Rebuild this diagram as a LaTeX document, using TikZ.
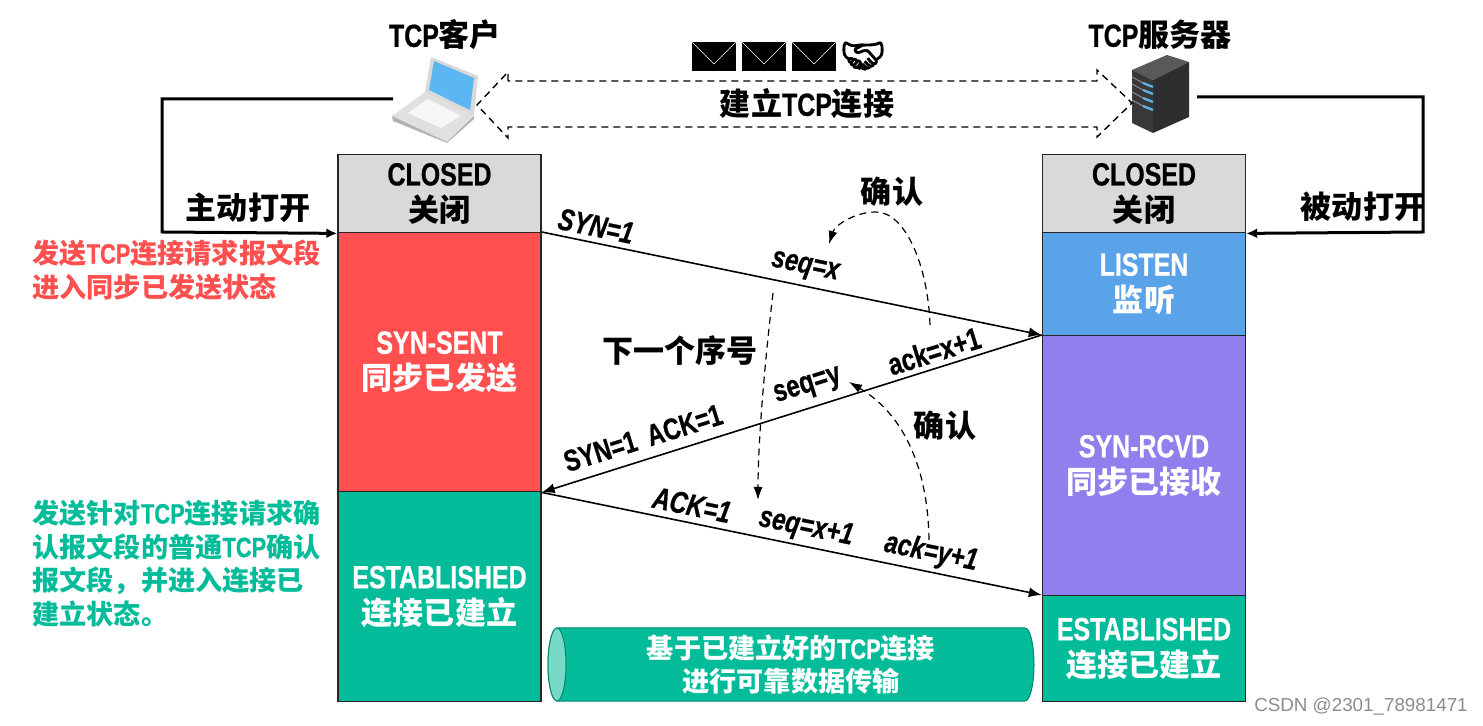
\documentclass[tikz,border=0pt]{standalone}
\usepackage{fontspec}
\usetikzlibrary{calc,arrows.meta}
\setmainfont{Liberation Sans}[FakeStretch=0.78, BoldFeatures={FakeBold=0.7}, BoldItalicFeatures={FakeBold=0.7}]
\newfontfamily\zhfont{Noto Sans CJK SC}[Scale=0.97]
\newfontfamily\iconfont{Noto Emoji}[FakeBold=4]
\newfontfamily\markfont{Liberation Sans}
\newcommand{\zh}[1]{{\zhfont\bfseries #1}}
\definecolor{boxgrey}{HTML}{D9D9D9}
\definecolor{sentred}{HTML}{FF4F4F}
\definecolor{listenblue}{HTML}{5AA3E8}
\definecolor{rcvdpurple}{HTML}{9080EE}
\definecolor{estgreen}{HTML}{05BC9A}
\definecolor{screenblue}{HTML}{5CB6F2}
\tikzset{
  statebox/.style={draw=black!85, line width=0.7pt, minimum width=101.5pt, inner sep=0pt,
                   align=center, anchor=north, text=white, execute at begin node={\rule{0pt}{14.5pt}},
                   font=\fontsize{16}{18}\selectfont\bfseries},
  caption/.style={inner sep=0pt, font=\fontsize{16}{18}\selectfont\bfseries},
  note/.style={inner sep=0pt, align=left, anchor=west, font=\fontsize{14}{16.8}\selectfont\bfseries},
  msg/.style={-{Latex[length=6.5pt,width=5pt]}, line width=0.8pt},
  flag/.style={inner sep=0pt, font=\fontsize{15.3}{18}\selectfont\bfseries\itshape},
  field/.style={inner sep=0pt, font=\fontsize{15.5}{18}\selectfont\bfseries},
  opening/.style={-{Latex[length=5.5pt,width=5pt]}, line width=1.5pt},
  hint/.style={-{Latex[length=6.5pt,width=4.5pt]}, line width=0.6pt, dash pattern=on 3.5pt off 2.5pt},
  mail/.style={fill=black, draw=none, minimum width=22pt, minimum height=14.5pt, inner sep=0pt},
  pipeline/.style={draw=estgreen!70!black, line width=0.5pt}
}
\begin{document}
\begin{tikzpicture}[x=0.5pt, y=-0.5pt]
  \useasboundingbox (0,0) rectangle (1483,726);
  % left column
  \node[statebox, fill=boxgrey, text=black, minimum height=39pt] (closedL) at (439.5,154) {CLOSED\\\zh{关闭}};
  \node[statebox, fill=sentred, minimum height=129.5pt] (sent) at (439.5,232) {SYN-SENT\\\zh{同步已发送}};
  \node[statebox, fill=estgreen, minimum height=105pt] (estL) at (439.5,491) {ESTABLISHED\\\zh{连接已建立}};
  % right column
  \node[statebox, fill=boxgrey, text=black, minimum height=39pt] (closedR) at (1144,154) {CLOSED\\\zh{关闭}};
  \node[statebox, fill=listenblue, minimum height=51.5pt] (listen) at (1144,232) {LISTEN\\\zh{监听}};
  \node[statebox, fill=rcvdpurple, minimum height=130pt] (rcvd) at (1144,335) {SYN-RCVD\\\zh{同步已接收}};
  \node[statebox, fill=estgreen, minimum height=53pt] (estR) at (1144,595) {ESTABLISHED\\\zh{连接已建立}};
  % laptop
  \fill[black!12] (392,116) -- (425,92) -- (474,116) -- (447,142) -- cycle;
  \fill[black!30] (392,116) -- (447,142) -- (474,116) -- (474,119) -- (447,143) -- (393,121) -- cycle;
  \fill[black!3] (408,113) -- (428,99) -- (461,116) -- (441,128) -- cycle;
  \fill[black!15] (431,57) -- (478,76) -- (474,116) -- (425,92) -- cycle;
  \fill[screenblue] (434,61) -- (474,78) -- (470,110) -- (429,90) -- cycle;
  \coordinate (laptop) at (393,99);
  % server
  \fill[black!65] (1132,70) -- (1167,55) -- (1189,62) -- (1153,80) -- cycle;
  \fill[black!78] (1132,70) -- (1153,80) -- (1153,133) -- (1132,123) -- cycle;
  \fill[black!82] (1153,80) -- (1189,62) -- (1189,117) -- (1153,133) -- cycle;
  \foreach \y in {83,90,98,106}{
    \draw[black!45, line width=0.5pt] (1132,\y-6) -- (1143,\y);
    \draw[screenblue, line width=1.1pt] (1143,\y) -- (1153,\y+4);
  }
  \coordinate (server) at (1197,97);
  % titles and top arrow
  \node[caption] (clientname) at (445,35) {TCP\zh{客户}};
  \node[caption] (servername) at (1160,35) {TCP\zh{服务器}};
  \draw[line width=0.7pt, dash pattern=on 3.5pt off 2.5pt]
    (508,81) -- (508,72) -- (477,105) -- (508,138) -- (508,127) -- (1097,127)
    -- (1097,137) -- (1132,103) -- (1097,70) -- (1097,81) -- cycle;
  \node[caption] (linkname) at (807,104) {\zh{建立}TCP\zh{连接}};
  % mails and handshake
  \foreach \i/\x in {1/714,2/764,3/814}{
    \node[mail] (mail\i) at (\x,56.5) {};
    \draw[white, line width=0.3pt] (mail\i.north west) -- (\x,64) -- (mail\i.north east);
  }
  \node[inner sep=0pt, font=\iconfont\fontsize{18}{18}\selectfont] (shake) at (863,56) {\symbol{"1F91D}};
  % open lines
  \draw[opening] (laptop) -- (162,99) -- (162,232) -- (closedL.south west);
  \draw[opening] (server) -- (1423,97) -- (1423,232) -- (closedR.south east);
  \node[caption] (activeopen) at (248,208) {\zh{主动打开}};
  \node[caption] (passiveopen) at (1363,207) {\zh{被动打开}};
  \node[note, text=sentred] (sentnote) at (32,270) {\zh{发送}TCP\zh{连接请求报文段}\\\zh{进入同步已发送状态}};
  \node[note, text=estgreen] (estnote) at (32,563.5) {\zh{发送针对}TCP\zh{连接请求确}\\\zh{认报文段的普通}TCP\zh{确认}\\\zh{报文段，并进入连接已}\\\zh{建立状态。}};
  % messages
  \draw[msg] (sent.north east) -- (rcvd.north west);
  \draw[msg] (rcvd.north west) -- (sent.south east);
  \draw[msg] (sent.south east) -- (estR.north west);
  \node[flag, rotate=-11.6] (syn) at (596,226) {SYN=1};
  \node[flag, rotate=-11.6] (seqx) at (805,268) {seq=x};
  \node[field, rotate=17.3] (ackx) at (934,351) {ack=x+1};
  \node[field, rotate=17.3] (seqy) at (808,387) {seq=y};
  \node[field, rotate=17.3, font=\fontsize{15}{18}\selectfont\bfseries] (synack) at (643,438) {SYN=1\hspace{6pt}ACK=1};
  \node[flag, rotate=-11.6] (ack) at (692,505) {ACK=1};
  \node[flag, rotate=-11.6] (seqnext) at (806,528) {seq=x+1};
  \node[flag, rotate=-11.6] (acky) at (931,553) {ack=y+1};
  % hints
  \coordinate (hintA) at (930,325);
  \coordinate (hintB) at (829,244);
  \coordinate (hintC) at (773,293);
  \coordinate (hintD) at (758,500);
  \coordinate (hintE) at (929,540);
  \coordinate (hintF) at (849,382);
  \draw[hint] (hintA) .. controls (928,265) and (905,212) .. (876,212) .. controls (855,212) and (835,225) .. (hintB);
  \draw[hint] (hintC) .. controls (765,360) and (758,440) .. (hintD);
  \draw[hint] (hintE) .. controls (928,470) and (905,415) .. (hintF);
  \node[caption] (confirmA) at (892,192) {\zh{确认}};
  \node[caption] (nextseq) at (680,351) {\zh{下一个序号}};
  \node[caption] (confirmB) at (945,426) {\zh{确认}};
  % data pipe
  \draw[pipeline, fill=estgreen] (557,628) -- (1025,628) arc[start angle=-90, end angle=90, x radius=9, y radius=36.5]
    -- (557,701) arc[start angle=90, end angle=270, x radius=9, y radius=36.5] -- cycle;
  \draw[pipeline, fill=estgreen!55] (557,664.5) ellipse[x radius=9, y radius=36.5];
  \node[inner sep=0pt, text=white, align=center, font=\fontsize{14}{16.5}\selectfont\bfseries] (pipetext) at (791,665)
        {\zh{基于已建立好的}TCP\zh{连接}\\\zh{进行可靠数据传输}};
  \node[inner sep=0pt, text=black!45, font=\markfont\fontsize{9.4}{11}\selectfont] (mark) at (1361,707) {CSDN @2301\_78981471};
\end{tikzpicture}
\end{document}
